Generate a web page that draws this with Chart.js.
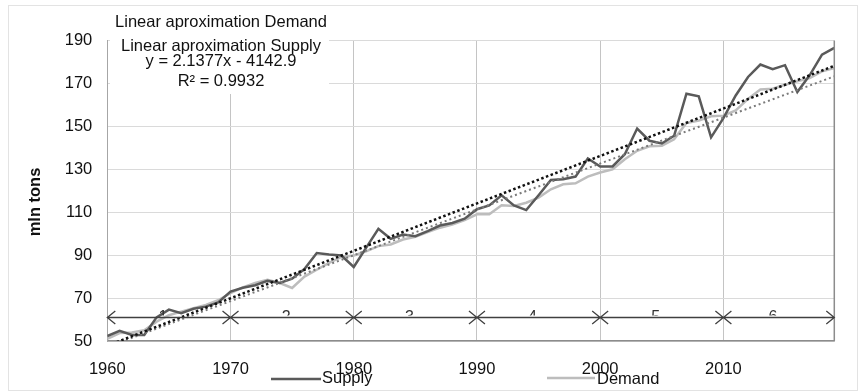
<!DOCTYPE html>
<html><head><meta charset="utf-8">
<script src="https://cdn.jsdelivr.net/npm/chart.js@4/dist/chart.umd.min.js"></script>
<style>html,body{margin:0;padding:0;background:#fff;} canvas{display:block;}</style>
</head><body>
<canvas id="c" width="865" height="392"></canvas>
<script>
const years = [1960,1961,1962,1963,1964,1965,1966,1967,1968,1969,
               1970,1971,1972,1973,1974,1975,1976,1977,1978,1979,
               1980,1981,1982,1983,1984,1985,1986,1987,1988,1989,
               1990,1991,1992,1993,1994,1995,1996,1997,1998,1999,
               2000,2001,2002,2003,2004,2005,2006,2007,2008,2009,
               2010,2011,2012,2013,2014,2015,2016,2017,2018,2019];
const supply = [52.3,54.7,52.8,52.8,61,64.6,63,65,66,68,
                73,74.8,76,78,77,79,83.5,91,90.3,89.8,
                84.5,93.4,102.3,97.6,99.6,98.8,101.2,103.8,105,107,
                111.4,113.2,117.9,113.2,111,117.9,125,125.4,126.6,135,
                131.3,131.3,137,149,143.3,142,145.6,165.2,164,144.9,
                153.8,164.4,173,178.8,176.6,178.5,166,173.8,183.4,186.6];
const demand = [51,53.7,54,55,59,62,63.7,65.3,66.8,69,
                72.3,75,77,78.5,77,74.7,80,83.2,86.4,89.2,
                89.8,91.8,94.2,95,97.3,98.5,100.7,102.8,104.3,106.3,
                109,109,113.2,112.9,114.4,116.8,120.7,123,123.5,126.6,
                128.5,130,134.7,138.6,140.7,141,144,151.6,152.7,154.7,
                155,157.4,162.8,167.2,167.5,169.4,171,172.5,175.6,177.2];
const trendYears = [1960, 2019];
const trendDemand = [47.8, 178.2];
const trendSupply = [47.2, 173.3];
const xTicks = [1960,1970,1980,1990,2000,2010];
const yTicks = [50,70,90,110,130,150,170,190];
const periodBounds = [1960,1970,1980,1990,2000,2010,2019];
const periodLabels = ['1','2','3','4','5','6'];
const periodLevel = 61.3;
const noteLines = ['Linear aproximation Demand','Linear aproximation Supply','y = 2.1377x - 4142.9','R\u00B2 = 0.9932'];
const legendLabels = ['Supply','Demand'];
const yTitle = 'mln tons';

const FONT = '"Liberation Sans", Arial, sans-serif';
const SUPPLY_COLOR = '#5a5a5a';
const DEMAND_COLOR = '#bdbdbd';

function pts(xs, ys){ return xs.map((x,i)=>({x:x, y:ys[i]})); }

const overlay = {
  id: 'overlay',
  afterDraw(chart){
    const ctx = chart.ctx;
    const xs = chart.scales.x, ys = chart.scales.y;
    const ca = chart.chartArea;
    ctx.save();
    // right border
    ctx.strokeStyle = '#8c8c8c'; ctx.lineWidth = 1.5;
    ctx.beginPath(); ctx.moveTo(ca.right, ca.top); ctx.lineTo(ca.right, ca.bottom); ctx.stroke();
    // top-left note box
    ctx.fillStyle = '#ffffff';
    ctx.fillRect(110, 6, 219, 88);
    ctx.fillStyle = '#111';
    ctx.font = '16.5px ' + FONT;
    ctx.textAlign = 'center'; ctx.textBaseline = 'alphabetic';
    const noteY = [27, 50.5, 65.5, 86];
    noteLines.forEach((t,i)=>ctx.fillText(t, 221, noteY[i]));
    // period arrows
    const ly = Math.round(ys.getPixelForValue(periodLevel)) + 0.5;
    ctx.strokeStyle = '#404040'; ctx.lineWidth = 1.3;
    const ah = 8, hw = 6.5;
    for (let i=0;i<periodBounds.length-1;i++){
      const a = xs.getPixelForValue(periodBounds[i]);
      const b = xs.getPixelForValue(periodBounds[i+1]);
      ctx.beginPath();
      ctx.moveTo(a, ly); ctx.lineTo(b, ly);
      ctx.moveTo(a+ah, ly-hw); ctx.lineTo(a, ly); ctx.lineTo(a+ah, ly+hw);
      ctx.moveTo(b-ah, ly-hw); ctx.lineTo(b, ly); ctx.lineTo(b-ah, ly+hw);
      ctx.stroke();
      const mid = (a+b)/2 - 6;
      ctx.save();
      ctx.beginPath(); ctx.rect(mid-15, ly-20, 30, 18); ctx.clip();
      ctx.fillStyle = '#333';
      ctx.font = '16px ' + FONT;
      ctx.textAlign = 'center'; ctx.textBaseline = 'top';
      ctx.fillText(periodLabels[i], mid, ly-8);
      ctx.restore();
    }
    // y title
    ctx.save();
    ctx.translate(35, 202);
    ctx.rotate(-Math.PI/2);
    ctx.fillStyle = '#111';
    ctx.font = 'bold 16.5px ' + FONT;
    ctx.textAlign = 'center'; ctx.textBaseline = 'middle';
    ctx.fillText(yTitle, 0, 0);
    ctx.restore();
    // legend
    const leg = [
      {x1:271, x2:321, y:379, c:SUPPLY_COLOR, tx:322, ty:383},
      {x1:547, x2:595, y:378, c:DEMAND_COLOR, tx:597, ty:384}
    ];
    ctx.font = '16.5px ' + FONT;
    ctx.textAlign = 'left'; ctx.textBaseline = 'alphabetic';
    leg.forEach((l,i)=>{
      ctx.strokeStyle = l.c; ctx.lineWidth = 2.5;
      ctx.beginPath(); ctx.moveTo(l.x1, l.y); ctx.lineTo(l.x2, l.y); ctx.stroke();
      ctx.fillStyle = '#111';
      ctx.fillText(legendLabels[i], l.tx, l.ty);
    });
    // outer frame
    ctx.strokeStyle = '#e3e3e3'; ctx.lineWidth = 1;
    ctx.strokeRect(8.5, 5.5, 849, 385);
    ctx.restore();
  }
};

new Chart(document.getElementById('c'), {
  type: 'line',
  data: {
    datasets: [
      {label:'Supply', data: pts(years, supply), borderColor: SUPPLY_COLOR, borderWidth: 2.5, pointRadius: 0, tension: 0, order: 2},
      {label:'Demand', data: pts(years, demand), borderColor: DEMAND_COLOR, borderWidth: 2.5, pointRadius: 0, tension: 0, order: 3},
      {label:'Linear aproximation Demand', data: pts(trendYears, trendDemand), borderColor: '#111', borderWidth: 2.5, borderDash: [2.5,2.5], pointRadius: 0, order: 0},
      {label:'Linear aproximation Supply', data: pts(trendYears, trendSupply), borderColor: '#7a7a7a', borderWidth: 2, borderDash: [2,3], pointRadius: 0, order: 1}
    ]
  },
  options: {
    responsive: false, animation: false, devicePixelRatio: 1,
    layout: { padding: { top: 40.5, right: 30.7, left: 0, bottom: 0 } },
    plugins: { legend: { display: false }, tooltip: { enabled: false } },
    scales: {
      x: {
        type: 'linear', min: 1960, max: 2019,
        afterBuildTicks: s => { s.ticks = xTicks.map(v=>({value:v})); },
        afterFit: s => { s.height = 51; },
        grid: { color: '#c4c4c4', lineWidth: 1, drawTicks: false },
        border: { color: '#8c8c8c', width: 1.5 },
        ticks: { padding: 19, color: '#111', font: { family: FONT, size: 16.5 }, callback: v => String(v), maxRotation: 0, autoSkip: false }
      },
      y: {
        min: 50, max: 190,
        afterBuildTicks: s => { s.ticks = yTicks.map(v=>({value:v})); },
        afterFit: s => { s.width = 107.3; },
        grid: { color: '#dadada', lineWidth: 1, drawTicks: false },
        border: { color: '#a6a6a6', width: 1 },
        ticks: { padding: 15, color: '#111', font: { family: FONT, size: 16.5 }, callback: v => String(v) }
      }
    }
  },
  plugins: [overlay]
});
</script>
</body></html>
